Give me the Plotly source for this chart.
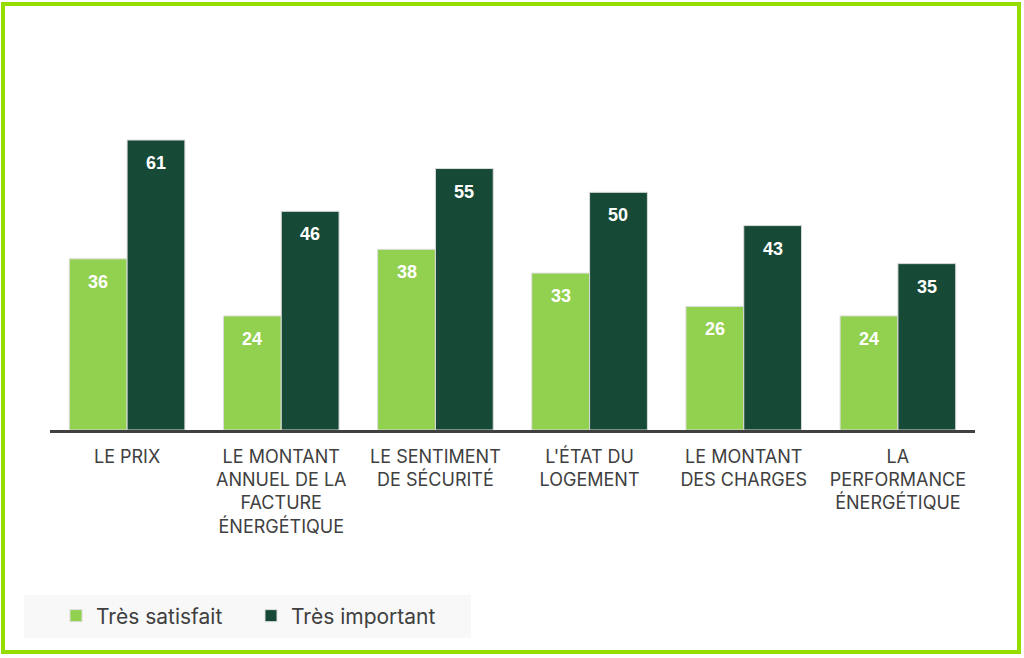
import plotly.graph_objects as go

categories = ["LE PRIX", "LE MONTANT<br>ANNUEL DE LA<br>FACTURE<br>ÉNERGÉTIQUE",
              "LE SENTIMENT<br>DE SÉCURITÉ", "L'ÉTAT DU<br>LOGEMENT",
              "LE MONTANT<br>DES CHARGES", "LA<br>PERFORMANCE<br>ÉNERGÉTIQUE"]
tres_satisfait = [36, 24, 38, 33, 26, 24]
tres_important = [61, 46, 55, 50, 43, 35]
series_names = ["Très satisfait", "Très important"]
colors = ["#92d050", "#174a36"]

W, H = 1024, 658
L, R, T, B = 50, 49, 121, 228
pw, ph = W - L - R, H - T - B


def px2x(p):
    return (p - L) / pw


def py2y(p):
    return (H - B - p) / ph


fig = go.Figure()
for name, vals, col in zip(series_names, [tres_satisfait, tres_important], colors):
    fig.add_trace(go.Bar(
        x=categories, y=vals, name=name,
        marker=dict(color=col, line=dict(color="#dcdcdc", width=1)),
        hoverinfo="skip",
    ))

bargap = 0.25
bar_px = pw / len(categories) * (1 - bargap) / 2
annotations = []
for k, vals in enumerate([tres_satisfait, tres_important]):
    for c, v in zip(categories, vals):
        annotations.append(dict(
            x=c, y=v, xref="x", yref="y", text=f"<b>{v}</b>", showarrow=False,
            xshift=(k - 0.5) * bar_px, yshift=-23, yanchor="middle",
            font=dict(family="Liberation Sans, Arial", size=18, color="white"),
        ))

shapes = [
    dict(type="rect", xref="paper", yref="paper",
         x0=px2x(3), x1=px2x(1019), y0=py2y(652), y1=py2y(4),
         line=dict(color="#95dc00", width=4), fillcolor="rgba(0,0,0,0)", layer="below"),
    dict(type="rect", xref="paper", yref="paper",
         x0=px2x(24), x1=px2x(471), y0=py2y(638), y1=py2y(595),
         line=dict(width=0), fillcolor="#f8f8f8", layer="below"),
]

fig.update_layout(
    width=W, height=H,
    margin=dict(l=L, r=R, t=T, b=B),
    paper_bgcolor="white", plot_bgcolor="white",
    barmode="group", bargap=bargap, bargroupgap=0,
    font=dict(family="Inter, Liberation Sans, Arial", color="#404040"),
    xaxis=dict(showline=True, linecolor="#404040", linewidth=3, ticks="",
               tickfont=dict(size=18, color="#404040"), showgrid=False,
               ticklabelstandoff=8, fixedrange=True),
    yaxis=dict(range=[0, 65], visible=False, showgrid=False, fixedrange=True),
    showlegend=True,
    legend=dict(orientation="h", x=px2x(56), xanchor="left", y=py2y(616), yanchor="middle",
                bgcolor="rgba(0,0,0,0)", font=dict(size=21, color="#404040"),
                itemwidth=30, entrywidth=150, entrywidthmode="pixels",
                traceorder="normal"),
    annotations=annotations,
    shapes=shapes,
)

fig.write_html("out.html", config={"displayModeBar": False},
               post_script="document.body.style.margin='0';document.body.style.overflow='hidden';")
